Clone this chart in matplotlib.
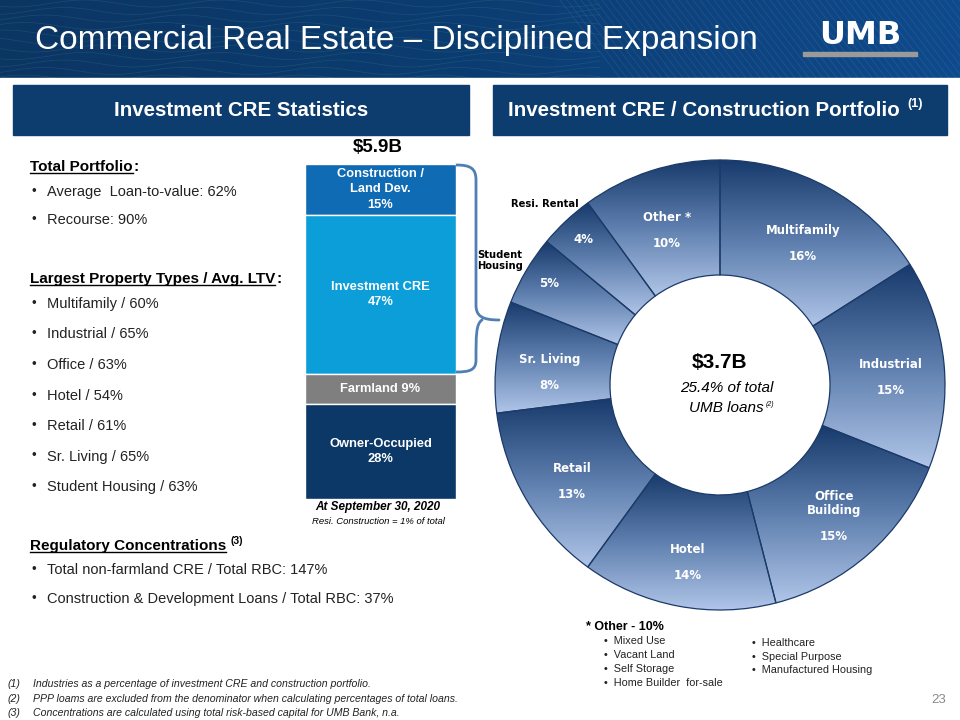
import numpy as np
import matplotlib
matplotlib.use('Agg')
import matplotlib.pyplot as plt
from matplotlib.patches import Rectangle, PathPatch
from matplotlib.path import Path
from matplotlib.colors import LinearSegmentedColormap

# ---------------- data ----------------
title = 'Commercial Real Estate \u2013 Disciplined Expansion'
left_header = 'Investment CRE Statistics'
right_header = 'Investment CRE / Construction Portfolio'

bar_labels = ['Construction /\nLand Dev.', 'Investment CRE', 'Farmland', 'Owner-Occupied']
bar_values = [15, 47, 9, 28]
bar_total = '$5.9B'
bar_date = 'At September 30, 2020'
bar_note = 'Resi. Construction = 1% of total'

donut_labels = ['Multifamily', 'Industrial', 'Office\nBuilding', 'Hotel', 'Retail',
                'Sr. Living', 'Student\nHousing', 'Resi. Rental', 'Other *']
donut_values = [16, 15, 15, 14, 13, 8, 5, 4, 10]
donut_total = '$3.7B'
donut_share = '25.4% of total'
donut_share2 = 'UMB loans'

portfolio_stats = ['Average  Loan-to-value: 62%', 'Recourse: 90%']
property_types = ['Multifamily', 'Industrial', 'Office', 'Hotel', 'Retail', 'Sr. Living', 'Student Housing']
property_ltv = [60, 65, 63, 54, 61, 65, 63]
reg_items = ['Total non-farmland CRE / Total RBC: 147%',
             'Construction & Development Loans / Total RBC: 37%']
other_title = '* Other - 10%'
other_col1 = ['Mixed Use', 'Vacant Land', 'Self Storage', 'Home Builder  for-sale']
other_col2 = ['Healthcare', 'Special Purpose', 'Manufactured Housing']
footnotes = ['Industries as a percentage of investment CRE and construction portfolio.',
             'PPP loams are excluded from the denominator when calculating percentages of total loans.',
             'Concentrations are calculated using total risk-based capital for UMB Bank, n.a.']
page_no = '23'

# ---------------- styles ----------------
SANS = ['Liberation Sans', 'DejaVu Sans']
NAVY = '#0d3c6e'
bar_colors = ['#0f6bb4', '#0b9ed9', '#7f7f7f', '#0b3866']
TXT = '#222222'

fig = plt.figure(figsize=(9.6, 7.2), dpi=100)
bg = fig.add_axes([0, 0, 1, 1])
bg.set_xlim(0, 960)
bg.set_ylim(720, 0)
bg.axis('off')

# header band with gradient
hdr_cmap = LinearSegmentedColormap.from_list('hdr', ['#0b3563', '#0c3d72', '#0f4a8c'])
bg.imshow(np.linspace(0, 1, 256).reshape(1, -1), cmap=hdr_cmap, extent=[0, 960, 78, 0],
          aspect='auto', zorder=0)
xw = np.linspace(0, 600, 600)
for k in range(12):
    y0 = -4 + k * 7.5
    bg.plot(xw, y0 + 3.5 * np.sin(xw / 22.0 + k * 0.9), color='#3b8a8a', lw=0.5,
            alpha=0.28, zorder=1)
for k in range(60):
    x0 = 560 + k * 7
    bg.plot([x0, x0 + 60], [0, 78], color='#8fb4e0', lw=0.5, alpha=0.16, zorder=1)
bg.add_patch(Rectangle((0, 78), 960, 6, color='white', zorder=1.5))
bg.set_xlim(0, 960)
bg.set_ylim(720, 0)

bg.text(35, 41, title, color='white', fontsize=24, family=SANS, va='center', ha='left', zorder=3)
bg.text(860, 36, 'UMB', color='white', fontsize=23, family=['DejaVu Sans'], fontweight='heavy',
        va='center', ha='center', zorder=3)
bg.add_patch(Rectangle((803, 52), 114, 4, color='#9a9a9a', zorder=3))

# section headers
bg.add_patch(Rectangle((13, 85), 456, 50, color=NAVY, zorder=2))
bg.add_patch(Rectangle((493, 85), 454, 50, color=NAVY, zorder=2))
bg.text(241, 110, left_header, color='white', fontsize=14.8, fontweight='bold', family=SANS,
        ha='center', va='center', zorder=3)
t_rh = bg.text(704, 110, right_header, color='white', fontsize=14.8, fontweight='bold', family=SANS,
               ha='center', va='center', zorder=3)

# left text block
underlined = []
def heading(x, y, s):
    t = bg.text(x, y, s, fontsize=11, fontweight='bold', family=SANS, color='black',
                ha='left', va='center')
    underlined.append(t)
    return t

def bullet(x, y, s, fs=10.5):
    bg.text(x, y, '\u2022', fontsize=fs - 1, family=SANS, color=TXT, ha='left', va='center')
    bg.text(x + 15, y, s, fontsize=fs, family=SANS, color=TXT, ha='left', va='center')

h1 = heading(30, 167, 'Total Portfolio')
for i, s in enumerate(portfolio_stats):
    bullet(32, 192 + i * 28, s)
h2 = heading(30, 279, 'Largest Property Types / Avg. LTV')
for i, (n, v) in enumerate(zip(property_types, property_ltv)):
    bullet(32, 304 + i * 30.5, f'{n} / {v}%')
h3 = heading(30, 546, 'Regulatory Concentrations')
for i, s in enumerate(reg_items):
    bullet(32, 570 + i * 29, s)

# footnotes
for i, s in enumerate(footnotes):
    y = 684 + i * 14.5
    bg.text(8, y, f'({i + 1})', fontsize=7.6, style='italic', family=SANS, color=TXT, va='center')
    bg.text(33, y, s, fontsize=7.6, style='italic', family=SANS, color=TXT, va='center')
bg.text(946, 700, page_no, fontsize=9.5, family=SANS, color='#8a8a8a', ha='right', va='center')

# ---------------- stacked bar ----------------
bax = fig.add_axes([305 / 960, (720 - 499) / 720, 151 / 960, 335 / 720])
cum = 0
total = sum(bar_values)
for lab, v, c in zip(bar_labels, bar_values, bar_colors):
    bax.bar(0, v, bottom=cum, width=1.0, color=c, edgecolor='white', linewidth=1.0)
    txt = f'{lab} {v}%' if v < 10 else f'{lab}\n{v}%'
    bax.text(0, cum + v / 2, txt, color='white', fontsize=9.3, fontweight='bold', family=SANS,
             ha='center', va='center', linespacing=1.35)
    cum += v
bax.set_xlim(-0.5, 0.5)
bax.set_ylim(total, 0)
bax.axis('off')

bg.text(378, 148, bar_total, fontsize=13.5, fontweight='bold', family=SANS, ha='center', va='center')
bg.text(378, 507, bar_date, fontsize=8.5, fontweight='bold', style='italic', family=SANS,
        ha='center', va='center')
bg.text(378, 522, bar_note, fontsize=6.8, style='italic', family=SANS, ha='center', va='center')

# brace
codes = [Path.MOVETO, Path.CURVE4, Path.CURVE4, Path.CURVE4,
         Path.LINETO, Path.CURVE4, Path.CURVE4, Path.LINETO,
         Path.MOVETO, Path.CURVE4, Path.CURVE4,
         Path.LINETO, Path.CURVE4, Path.CURVE4, Path.CURVE4]
verts = [(456, 165), (470, 165), (476, 168), (476, 180),
         (476, 305), (476, 316), (482, 320), (499, 320),
         (482, 320), (476, 324), (476, 335),
         (476, 360), (476, 370), (470, 372), (456, 372)]
bg.add_patch(PathPatch(Path(verts, codes), fill=False, edgecolor='#4f7fb3', lw=2.0,
                       capstyle='round', joinstyle='round', zorder=4))

# ---------------- donut ----------------
R, W = 225, 115
cx, cy = 720, 385
dax = fig.add_axes([(cx - 240) / 960, (720 - cy - 240) / 720, 480 / 960, 480 / 720])
wedges, _ = dax.pie(donut_values, radius=R, startangle=90, counterclock=False,
                    wedgeprops=dict(width=W, edgecolor='#1b3a68', linewidth=0.9))
grad_cmap = LinearSegmentedColormap.from_list('wg', ['#b0c5e8', '#5e7fae', '#173a6c'])
grad = np.linspace(0, 1, 256).reshape(-1, 1)
for w in wedges:
    ext = w.get_path().get_extents()
    im = dax.imshow(grad, cmap=grad_cmap, extent=[ext.x0, ext.x1, ext.y0, ext.y1],
                    origin='lower', aspect='auto', zorder=1, interpolation='bilinear')
    im.set_clip_path(w)
    w.set_facecolor('none')
    w.set_zorder(2)
dax.set_xlim(-240, 240)
dax.set_ylim(-240, 240)
dax.set_aspect('equal')
dax.axis('off')

LBL = dict(color='white', fontsize=8.5, fontweight='bold', family=['DejaVu Sans'],
           ha='center', va='center', zorder=5)
start = 90.0
for lab, v in zip(donut_labels, donut_values):
    sweep = 360.0 * v / sum(donut_values)
    mid = np.deg2rad(start - sweep / 2)
    start -= sweep
    pct = f'{v}%'
    if v <= 5:
        rx, ry = 199 * np.cos(mid), 199 * np.sin(mid)
        dax.text(rx, ry, pct, **LBL)
        ox, oy = 256 * np.cos(mid), 256 * np.sin(mid) - 6
        dax.text(ox, oy, lab, color='black', fontsize=7.2, fontweight='bold',
                 family=['DejaVu Sans'], ha='center', va='center', zorder=5,
                 linespacing=1.1, clip_on=False)
    else:
        r = 172
        lx, ly = r * np.cos(mid), r * np.sin(mid) - 9
        nlines = lab.count('\n') + 1
        dax.text(lx, ly + 13 + 7 * (nlines - 1), lab, linespacing=1.1, **LBL)
        dax.text(lx, ly - 13, pct, **LBL)

dax.text(0, 23, donut_total, fontsize=15, fontweight='bold', family=SANS, ha='center', va='center', zorder=5)
dax.text(7, -3, donut_share, fontsize=11, style='italic', family=SANS, ha='center', va='center', zorder=5)
t_ul = dax.text(6, -23, donut_share2, fontsize=11, style='italic', family=SANS, ha='center', va='center', zorder=5)

# other list
bg.text(586, 627, other_title, fontsize=9, fontweight='bold', family=SANS, ha='left', va='center')
for i, s in enumerate(other_col1):
    bg.text(604, 641 + i * 14, '\u2022  ' + s, fontsize=7.8, family=SANS, color=TXT, ha='left', va='center')
for i, s in enumerate(other_col2):
    bg.text(752, 643 + i * 13.5, '\u2022  ' + s, fontsize=7.8, family=SANS, color=TXT, ha='left', va='center')

# underline headings and superscripts
fig.canvas.draw()
r = fig.canvas.get_renderer()
inv = bg.transData.inverted()
def px_box(t):
    bb = t.get_window_extent(r)
    (x0, y0), (x1, y1) = inv.transform([(bb.x0, bb.y0), (bb.x1, bb.y1)])
    return x0, y0, x1, y1

for t in underlined:
    x0, y0, x1, y1 = px_box(t)
    bg.plot([x0, x1], [y0 - 1, y0 - 1], color='black', lw=1.0)
    if t is not h3:
        bg.text(x1 + 1, (y0 + y1) / 2, ':', fontsize=11, fontweight='bold',
                family=SANS, ha='left', va='center')
x0, y0, x1, y1 = px_box(h3)
bg.text(x1 + 4, y1 + 2, '(3)', fontsize=7.5, fontweight='bold', family=SANS, ha='left', va='center')
x0, y0, x1, y1 = px_box(t_rh)
bg.text(x1 + 7, 104, '(1)', color='white', fontsize=9, fontweight='bold', family=SANS,
        ha='left', va='center', zorder=3)
x0, y0, x1, y1 = px_box(t_ul)
bg.text(x1 + 2, y1 + 3, '(2)', fontsize=5, style='italic', family=SANS, ha='left', va='center', zorder=6)

fig.savefig('out.png', dpi=100)
